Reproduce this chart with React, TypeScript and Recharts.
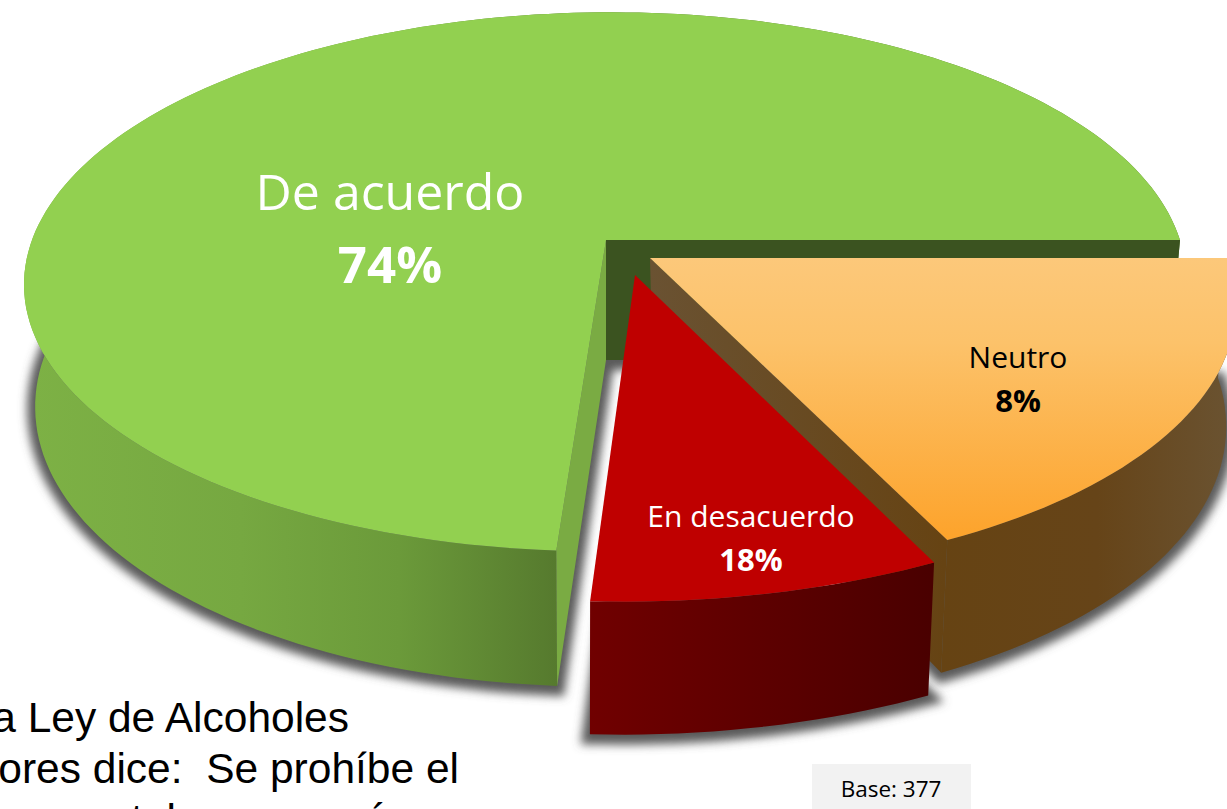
import React from "react";
import { PieChart, Pie } from "recharts";

// slice sizes as drawn in the picture (the printed labels on the two small slices are swapped there)
const categories = ["De acuerdo", "En desacuerdo", "Neutro"];
const sliceValues = [74, 8, 18];
const printedLabels = ["74%", "18%", "8%"];
const noteLines = ["La Ley de Alcoholes", "Menores dice:  Se prohíbe el"];
const clippedLine = "en tal menor, más";
const baseText = "Base: 377";

const W = 1227;
const H = 809;
const PERSPECTIVE = 0.155;
const LABEL_FONT = "'Open Sans', 'Noto Sans', sans-serif";

// projection of each slice's top and bottom circle
const RINGS: Record<string, any> = {
    "De acuerdo": {
        top: { ax: 606, ay: 240, r: 574, s: 263, t: -6, q: 0 },
        bottom: { ax: 606, ay: 360, r: 563, s: 276, t: -6, q: 0 },
    },
    "En desacuerdo": {
        top: { ax: 635, ay: 275, r: 604, s: 276, t: 0, q: -6 },
        bottom: { ax: 634, ay: 408, r: 594, s: 276, t: 0, q: -6 },
    },
    Neutro: {
        top: { ax: 650, ay: 258, r: 577, s: 268, t: 11, q: 0 },
        bottom: { ax: 653, ay: 378, r: 565, s: 280, t: 8, q: 0 },
    },
};

const LABELS: Record<string, any> = {
    "De acuerdo": { x: 390, y1: 210, y2: 283, size1: 50, size2: 51, color: "#ffffff" },
    "En desacuerdo": { x: 751, y1: 527, y2: 571, size1: 30, size2: 31, color: "#ffffff" },
    Neutro: { x: 1018, y1: 368, y2: 412, size1: 30, size2: 31, color: "#000000" },
};

const project = (ring: any, deg: number) => {
    const a = (deg * Math.PI) / 180;
    const u = Math.cos(a);
    const v = -Math.sin(a);
    const w = 1 - PERSPECTIVE * v;
    return [ring.ax + (ring.r * u + ring.t * v) / w, ring.ay + (ring.s * v + ring.q * u) / w];
};

const arc = (ring: any, from: number, to: number) => {
    const pts = [];
    const n = Math.max(2, Math.ceil(Math.abs(to - from) / 1.5));
    for (let i = 0; i <= n; i++) pts.push(project(ring, from + ((to - from) * i) / n));
    return pts;
};

const toPath = (pts: number[][]) =>
    "M" + pts.map((p) => `${p[0].toFixed(1)},${p[1].toFixed(1)}`).join("L") + "Z";

const sectorPath = (ring: any, from: number, to: number) =>
    toPath([[ring.ax, ring.ay], ...arc(ring, from, to)]);

const wallPath = (rings: any, from: number, to: number) =>
    toPath([...arc(rings.top, from, to), ...arc(rings.bottom, from, to).reverse()]);

const nameOf = (p: any) => p.name ?? p.payload?.name ?? p.category;

const ShadowShape = (p: any) => {
    const rings = RINGS[nameOf(p)];
    return (
        <path
            d={sectorPath(rings.bottom, p.startAngle, p.endAngle)}
            fill="#5a5a5a"
            stroke="#5a5a5a"
            strokeWidth={16}
            filter="url(#pieShadow)"
            transform="translate(0,2)"
        />
    );
};

const GreenShape = (p: any) => {
    const name = nameOf(p);
    if (name !== "De acuerdo") return <g />;
    const rings = RINGS[name];
    const { startAngle: a0, endAngle: a1 } = p;
    const topA = project(rings.top, a0);
    const botA = project(rings.bottom, a0);
    const topB = project(rings.top, a1);
    const botB = project(rings.bottom, a1);
    const tc = [rings.top.ax, rings.top.ay];
    const bc = [rings.bottom.ax, rings.bottom.ay];
    return (
        <g>
            <path d={wallPath(rings, a0, a1)} fill="url(#greenWall)" />
            <path d={toPath([tc, topA, botA, bc])} fill="#3b5320" />
            <path d={toPath([tc, topB, botB, bc])} fill="#7aab43" />
            <path d={sectorPath(rings.top, a0, a1)} fill="#92d050" />
        </g>
    );
};

const OrangeShape = (p: any) => {
    const name = nameOf(p);
    if (name !== "Neutro") return <g />;
    const rings = RINGS[name];
    const { startAngle: a0, endAngle: a1 } = p;
    const tc = [rings.top.ax, rings.top.ay];
    const bc = [rings.bottom.ax, rings.bottom.ay];
    return (
        <g>
            <path d={wallPath(rings, a0, a1)} fill="url(#orangeWall)" />
            <path d={toPath([tc, project(rings.top, a0), project(rings.bottom, a0), bc])} fill="url(#orangeFace)" />
            <path d={sectorPath(rings.top, a0, a1)} fill="url(#orangeTop)" />
        </g>
    );
};

const RedShape = (p: any) => {
    const name = nameOf(p);
    if (name !== "En desacuerdo") return <g />;
    const rings = RINGS[name];
    const { startAngle: a0, endAngle: a1 } = p;
    return (
        <g>
            <path d={wallPath(rings, a0, a1)} fill="url(#redWall)" />
            <path d={sectorPath(rings.top, a0, a1)} fill="#bf0000" />
        </g>
    );
};

const LabelShape = (p: any) => {
    const name = nameOf(p);
    const l = LABELS[name];
    return (
        <g fontFamily={LABEL_FONT} textAnchor="middle" fill={l.color}>
            <text x={l.x} y={l.y1} fontSize={l.size1}>{name}</text>
            <text x={l.x} y={l.y2} fontSize={l.size2} fontWeight={700}>{p.printed}</text>
        </g>
    );
};

const pieData = categories.map((name, i) => ({ name, value: sliceValues[i], printed: printedLabels[i] }));

const pieProps = {
    data: pieData,
    dataKey: "value",
    nameKey: "name",
    cx: 605,
    cy: 240,
    outerRadius: 200,
    startAngle: 0,
    endAngle: 360,
    stroke: "none",
    isAnimationActive: false,
    legendType: "none" as const,
};

export default function App() {
    return (
        <div style={{ position: "absolute", left: 0, top: 0, width: W, height: H, overflow: "hidden", background: "#ffffff" }}>
            <PieChart width={W} height={H} margin={{ top: 0, right: 0, bottom: 0, left: 0 }}>
                <defs>
                    <filter id="pieShadow" x="-10%" y="-10%" width="120%" height="120%">
                        <feGaussianBlur stdDeviation="5" />
                    </filter>
                    <linearGradient id="greenWall" gradientUnits="userSpaceOnUse" x1="30" y1="0" x2="557" y2="0">
                        <stop offset="0" stopColor="#7db145" />
                        <stop offset="0.4" stopColor="#76a841" />
                        <stop offset="0.7" stopColor="#6b9a3a" />
                        <stop offset="1" stopColor="#567a2e" />
                    </linearGradient>
                    <linearGradient id="redWall" gradientUnits="userSpaceOnUse" x1="590" y1="0" x2="930" y2="0">
                        <stop offset="0" stopColor="#700000" />
                        <stop offset="1" stopColor="#4a0000" />
                    </linearGradient>
                    <linearGradient id="orangeWall" gradientUnits="userSpaceOnUse" x1="940" y1="0" x2="1225" y2="0">
                        <stop offset="0" stopColor="#664313" />
                        <stop offset="0.55" stopColor="#664418" />
                        <stop offset="1" stopColor="#6a5230" />
                    </linearGradient>
                    <linearGradient id="orangeFace" gradientUnits="userSpaceOnUse" x1="650" y1="0" x2="945" y2="0">
                        <stop offset="0" stopColor="#6a5232" />
                        <stop offset="1" stopColor="#664313" />
                    </linearGradient>
                    <linearGradient id="orangeTop" gradientUnits="userSpaceOnUse" x1="0" y1="258" x2="0" y2="540">
                        <stop offset="0" stopColor="#fcc87a" />
                        <stop offset="0.3" stopColor="#fcc26a" />
                        <stop offset="1" stopColor="#fda32b" />
                    </linearGradient>
                </defs>
                <Pie {...pieProps} shape={ShadowShape} />
                <Pie {...pieProps} shape={GreenShape} />
                <Pie {...pieProps} shape={OrangeShape} />
                <Pie {...pieProps} shape={RedShape} />
                <Pie {...pieProps} shape={LabelShape} />
                <g fontFamily="'Liberation Sans', Arial, sans-serif" fontSize={42.5} fill="#000000">
                    <text x={349} y={732} textAnchor="end" style={{ whiteSpace: "pre" }}>{noteLines[0]}</text>
                    <text x={459} y={783} textAnchor="end" style={{ whiteSpace: "pre" }}>{noteLines[1]}</text>
                    <text x={72} y={834}>{clippedLine}</text>
                </g>
                <rect x={812} y={764} width={159} height={45} fill="#f2f2f2" />
                <text x={891} y={797} textAnchor="middle" fontFamily={LABEL_FONT} fontSize={22.5} fill="#000000">{baseText}</text>
            </PieChart>
        </div>
    );
}
